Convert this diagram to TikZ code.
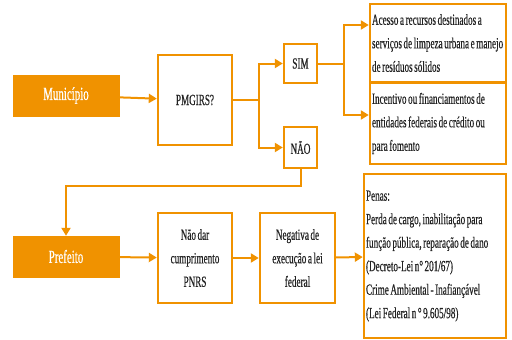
\documentclass[tikz,border=0pt]{standalone}
\usepackage{fontspec}
\setmainfont{Liberation Serif}[FakeStretch=0.59, FakeBold=0.4, WordSpace=0.68]
\usetikzlibrary{arrows.meta}
\definecolor{laranja}{RGB}{240,146,0}
\definecolor{tinta}{RGB}{34,34,34}

\begin{document}
\begin{tikzpicture}[
      x=1pt, y=-1pt,
      actor/.style={rectangle, fill=laranja, draw=laranja, text=white,
        minimum width=106pt, minimum height=41pt, inner sep=0pt,
        font=\fontsize{18.5}{21}\selectfont},
      box/.style={rectangle, draw=laranja, line width=2.4pt, fill=white,
        text=tinta, inner sep=2pt, align=center,
        font=\fontsize{15.5}{23.5}\selectfont},
      note/.style={box, align=left,
        execute at begin node={\spaceskip=0pt\xspaceskip=0pt\relax}},
      link/.style={draw=laranja, line width=2pt},
      flow/.style={link, -{Triangle[length=8pt, width=9pt]}}
    ]
    \useasboundingbox (0,0) rectangle (512,340);

    % Top row: municipality
    \node[actor] (mun) at (66,95.5) {Município};
    \node[box, minimum width=74pt, minimum height=90pt] (pm) at (195,100) {PMGIRS?};
    \node[box, minimum width=33pt, minimum height=39pt] (sim) at (300.5,63.5) {SIM};
    \node[box, minimum width=33pt, minimum height=41pt] (nao) at (300.5,147.5) {NÃO};
    \node[note, minimum width=136pt, minimum height=78pt, text width=132pt] (acesso) at (438,43)
      {Acesso a recursos destinados a\\\mbox{serviços de limpeza urbana e manejo}\\de resíduos sólidos};
    \node[note, minimum width=136pt, minimum height=81pt, text width=132pt] (incent) at (438,123.5)
      {Incentivo ou financiamentos de\\entidades federais de crédito ou\\para fomento};

    \coordinate (j1) at (259,100);
    \coordinate (j2) at (344,63.5);
    \draw[flow] (mun) -- (pm);
    \draw[link] (pm.east) -- (j1);
    \draw[flow] (j1) |- (sim.west);
    \draw[flow] (j1) |- (nao.west);
    \draw[link] (sim.east) -- (j2);
    \draw[flow] (j2) |- ([yshift=18pt]acesso.west);
    \draw[flow] (j2) |- ([yshift=8.5pt]incent.west);

    % Bottom row: mayor
    \node[actor] (pref) at (66,256.5) {Prefeito};
    \node[box, minimum width=74pt, minimum height=90pt] (naodar) at (195,258)
      {Não dar\\cumprimento\\PNRS};
    \node[box, minimum width=75pt, minimum height=90pt] (neg) at (297.5,258)
      {Negativa de\\execução a lei\\federal};
    \node[note, minimum width=142pt, minimum height=164pt, text width=138pt] (penas) at (435,256)
      {Penas:\\\mbox{Perda de cargo, inabilitação para}\\\mbox{função pública, reparação de dano}\\(Decreto-Lei n° 201/67)\\Crime Ambiental - Inafiançável\\(Lei Federal n ° 9.605/98)};

    \draw[flow] (pref) -- (naodar);
    \draw[flow] (naodar) -- (neg);
    \draw[flow] (neg) -- (penas);

    % Back to the mayor
    \coordinate (j3) at (66,186);
    \draw[flow] (nao.south) |- (j3) -- (pref.north);
  \end{tikzpicture}
\end{document}
